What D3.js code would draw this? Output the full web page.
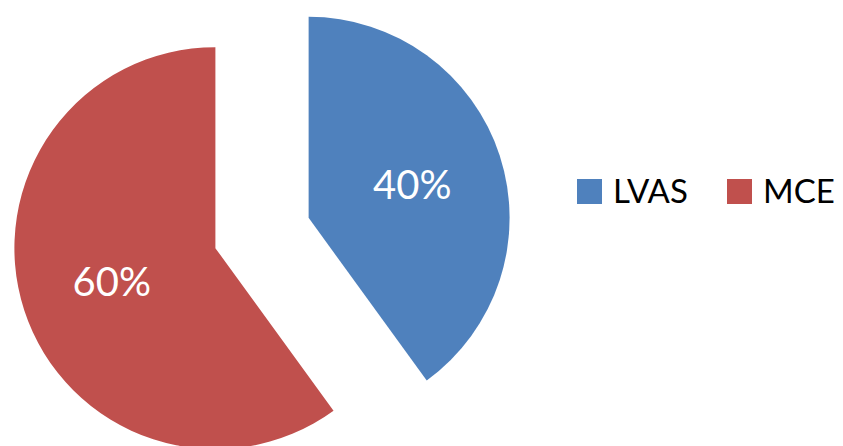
<!DOCTYPE html>
<html>
<head>
<meta charset="utf-8">
<script src="https://cdn.jsdelivr.net/npm/d3@7"></script>
<style>
  html, body { margin: 0; padding: 0; background: #fff; }
  svg { display: block; }
</style>
</head>
<body>
<svg id="chart" width="843" height="446"></svg>
<script>
// Share of each group
const categories = ["LVAS", "MCE"];
const values = [40, 60];
const labels = ["40%", "60%"];
const colors = ["#4F81BD", "#C0504D"];

const svg = d3.select("#chart");
const cx = 262, cy = 233;     // pie centre
const radius = 201;
const explode = 49;           // how far each slice is pulled out

const pie = d3.pie().sort(null).value(d => d)(values);
const arc = d3.arc().innerRadius(0).outerRadius(radius);

const g = svg.append("g").attr("transform", `translate(${cx},${cy})`);

const slices = g.selectAll("g.slice")
  .data(pie)
  .join("g")
  .attr("class", "slice")
  .attr("transform", d => {
    const a = (d.startAngle + d.endAngle) / 2;
    return `translate(${Math.sin(a) * explode},${-Math.cos(a) * explode})`;
  });

slices.append("path")
  .attr("d", arc)
  .attr("fill", (d, i) => colors[i]);

slices.append("text")
  .attr("transform", d => {
    const a = (d.startAngle + d.endAngle) / 2;
    const r = 109;
    return `translate(${Math.sin(a) * r},${-Math.cos(a) * r})`;
  })
  .attr("text-anchor", "middle")
  .attr("dy", "0.36em")
  .attr("fill", "#fff")
  .attr("font-family", "Lato, 'Open Sans', sans-serif")
  .attr("font-size", 40)
  .text((d, i) => labels[i]);

// Legend
const legend = svg.append("g").attr("transform", "translate(577,179)");
const legendX = d3.scalePoint().domain(categories).range([0, 150]);
const items = legend.selectAll("g")
  .data(categories)
  .join("g")
  .attr("transform", d => `translate(${legendX(d)},0)`);
items.append("rect")
  .attr("width", 25).attr("height", 25)
  .attr("fill", (d, i) => colors[i]);
items.append("text")
  .attr("x", 36).attr("y", 12.5)
  .attr("dy", "0.36em")
  .attr("fill", "#000")
  .attr("font-family", "Lato, 'Open Sans', sans-serif")
  .attr("font-size", 33)
  .text(d => d);
</script>
</body>
</html>
